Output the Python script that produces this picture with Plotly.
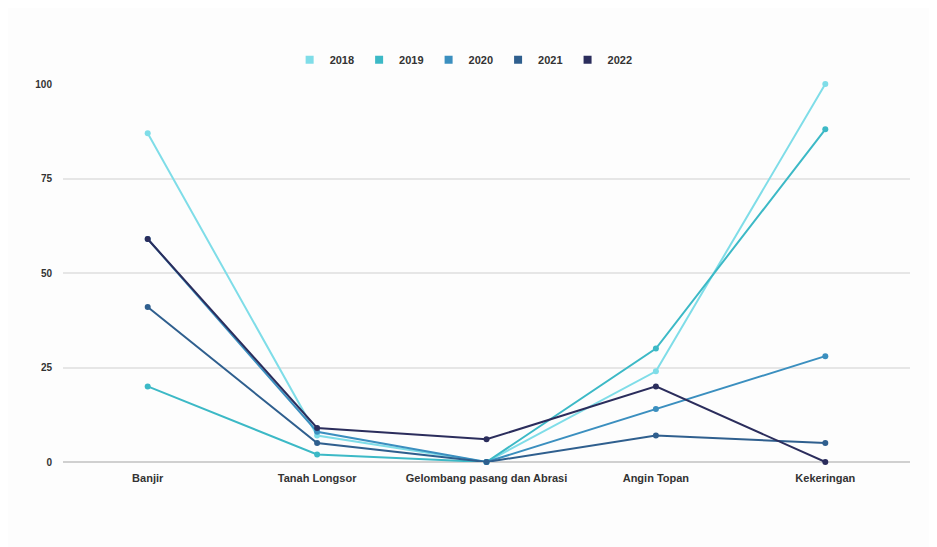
import plotly.graph_objects as go

categories = ["Banjir", "Tanah Longsor", "Gelombang pasang dan Abrasi", "Angin Topan", "Kekeringan"]
years = ["2018", "2019", "2020", "2021", "2022"]
v2018 = [87, 7, 0, 24, 100]
v2019 = [20, 2, 0, 30, 88]
v2020 = [59, 8, 0, 14, 28]
v2021 = [41, 5, 0, 7, 5]
v2022 = [59, 9, 6, 20, 0]
series = [v2018, v2019, v2020, v2021, v2022]
colors = ["#7fdde8", "#3cb9c6", "#3b8fbf", "#2f5f8e", "#2b2d5c"]
y_ticks = [0, 25, 50, 75, 100]

fig = go.Figure()
for name, vals, col in zip(years, series, colors):
    fig.add_trace(go.Scatter(
        x=categories, y=vals, mode="lines+markers", name=name,
        line=dict(color=col, width=2), marker=dict(color=col, size=6),
        showlegend=False, cliponaxis=False))
for name, col in zip(years, colors):
    fig.add_trace(go.Scatter(
        x=[None], y=[None], mode="markers", name=name,
        marker=dict(color=col, size=8, symbol="square")))

fig.update_layout(
    width=937, height=547,
    paper_bgcolor="#fdfdfd", plot_bgcolor="#fdfdfd",
    margin=dict(l=55, r=35, t=76, b=93),
    font=dict(family="Liberation Sans, Arial, sans-serif", color="#333333"),
    legend=dict(orientation="h", x=0.473, xanchor="center", y=1.026, yanchor="bottom",
                font=dict(size=11, family="Liberation Sans, Arial, sans-serif", weight="bold"),
                itemwidth=30, tracegroupgap=0, bgcolor="rgba(0,0,0,0)"),
    xaxis=dict(type="category", range=[-0.5, 4.5], showgrid=False, zeroline=False,
               showline=False, tickfont=dict(size=11, weight="bold"), ticks="", ticklen=0,
               ticklabelstandoff=8),
    yaxis=dict(range=[0, 100], tickvals=y_ticks, showgrid=True, gridcolor="#e6e6e6",
               gridwidth=1.5, zeroline=True, zerolinecolor="#d0d0d0", zerolinewidth=2,
               tickfont=dict(size=10, weight="bold"), ticks="", ticklabelstandoff=10),
)
fig.write_html("out.html")
